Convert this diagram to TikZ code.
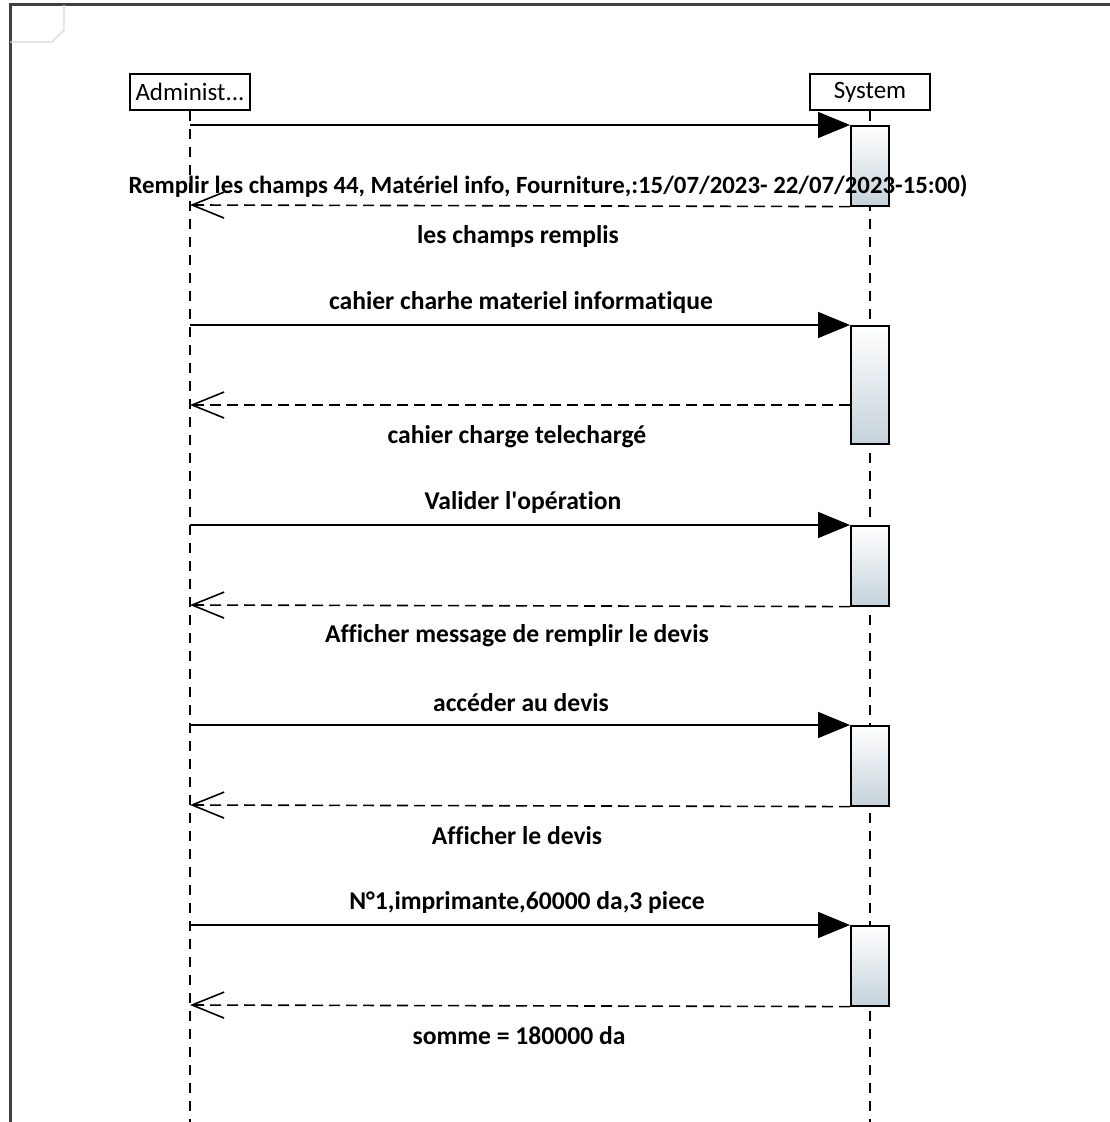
\documentclass[tikz,border=0pt]{standalone}
\usepackage{fontspec}
\setmainfont{Carlito}[Ligatures=CommonOff]
\usetikzlibrary{positioning,arrows.meta}
\definecolor{framegrey}{HTML}{404040}
\definecolor{cornergrey}{HTML}{D8D8D8}
\definecolor{actblue}{HTML}{C5D2DA}
\tikzset{
lifehead/.style={draw=black,line width=0.8pt,minimum width=60pt,minimum height=18pt,inner sep=1pt,font=\fontsize{12.5}{14}\selectfont,anchor=south},
lifeline/.style={draw=black,line width=0.7pt,dash pattern=on 5pt off 4pt},
actbox/.style={draw=black,line width=0.8pt,top color=white,bottom color=actblue,minimum width=19pt,inner sep=0pt,anchor=north west},
callmsg/.style={draw=black,line width=0.8pt,-{Triangle[length=16pt,width=13pt]}},
replymsg/.style={draw=black,line width=0.8pt,dash pattern=on 5.5pt off 3pt,-{Straight Barb[length=16pt,width=13pt,line width=0.8pt]}},
msglabel/.style={font=\fontsize{12.8}{14}\selectfont\bfseries,inner sep=0pt},
umlframe/.style={draw=framegrey,line width=1.5pt},
cornertab/.style={draw=cornergrey,line width=0.7pt}
}
\begin{document}
\begin{tikzpicture}[x=0.5pt,y=-0.5pt]
\useasboundingbox (0,0) rectangle (1109,1122);
% frame of the diagram
\draw[umlframe] (10,1124) -- (10,5) -- (1111,5);
\draw[cornertab] (10,42) -- (52,42) -- (64,30) -- (64,5);
% lifelines
\node[lifehead] (admin) at (190,111) {Administ...};
\node[lifehead] (system) at (870,111) {System};
\coordinate (adminend) at (190,1124);
\coordinate (systemend) at (870,1124);
\draw[lifeline] (admin.south) -- (adminend);
\draw[lifeline] (system.south) -- (systemend);
% activations
\node[actbox,minimum height=40pt] (act1) at (850,125) {};
\node[actbox,minimum height=59pt] (act2) at (850,325) {};
\node[actbox,minimum height=40pt] (act3) at (850,525) {};
\node[actbox,minimum height=40pt] (act4) at (850,725) {};
\node[actbox,minimum height=40pt] (act5) at (850,925) {};
% end points on the administrator side
\coordinate (call1) at (190,125);
\coordinate (call2) at (190,325);
\coordinate (call3) at (190,525);
\coordinate (call4) at (190,725);
\coordinate (call5) at (190,925);
\coordinate (back1) at (190,205);
\coordinate (back2) at (190,405);
\coordinate (back3) at (190,605);
\coordinate (back4) at (190,805);
\coordinate (back5) at (190,1005);
% messages
\draw[callmsg] (call1) -- (act1.north west);
\draw[replymsg] (act1.south west) -- (back1);
\draw[callmsg] (call2) -- (act2.north west);
\draw[replymsg] (act2.west |- back2) -- (back2);
\draw[callmsg] (call3) -- (act3.north west);
\draw[replymsg] (act3.south west) -- (back3);
\draw[callmsg] (call4) -- (act4.north west);
\draw[replymsg] (act4.south west) -- (back4);
\draw[callmsg] (call5) -- (act5.north west);
\draw[replymsg] (act5.south west) -- (back5);
% labels
\node[msglabel,font=\fontsize{12.4}{14}\selectfont\bfseries] (lab1) at (548,186) {Remplir les champs 44, Matériel info, Fourniture,:15/07/2023- 22/07/2023-15:00)};
\node[msglabel] (lab2) at (518,237) {les champs remplis};
\node[msglabel] (lab3) at (521,303) {cahier charhe materiel informatique};
\node[msglabel] (lab4) at (517,437) {cahier charge telechargé};
\node[msglabel] (lab5) at (523,503) {Valider l\textquotesingle opération};
\node[msglabel] (lab6) at (517,636) {Afficher message de remplir le devis};
\node[msglabel] (lab7) at (521,703) {accéder au devis};
\node[msglabel] (lab8) at (517,836) {Afficher le devis};
\node[msglabel] (lab9) at (527,903) {N°1,imprimante,60000 da,3 piece};
\node[msglabel] (lab10) at (519,1036) {somme = 180000 da};
\end{tikzpicture}
\end{document}
